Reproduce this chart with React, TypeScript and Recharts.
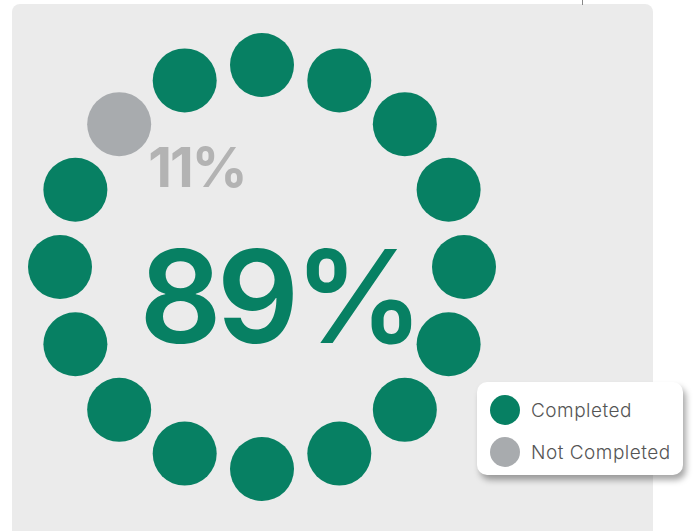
import { PieChart, Pie, Legend } from 'recharts';

// one entry per dot, clockwise from the top
const dotStatus = [
  'Completed', 'Completed', 'Completed', 'Completed',
  'Completed', 'Completed', 'Completed', 'Completed',
  'Completed', 'Completed', 'Completed', 'Completed',
  'Completed', 'Completed', 'Not Completed', 'Completed',
];

const completedLabel = '89%';
const notCompletedLabel = '11%';

const legendItems = ['Completed', 'Not Completed'];

const COLORS: Record<string, string> = {
  'Completed': '#078063',
  'Not Completed': '#a8abae',
};

const RADIAN = Math.PI / 180;
const DOT_RADIUS = 32;
const SLICE = 360 / dotStatus.length;

const pieData = dotStatus.map((status, i) => ({ name: `dot${i}`, status, value: 1 }));

const renderDot = (props: any) => {
  const { cx, cy, midAngle, innerRadius, outerRadius, index } = props;
  const r = (innerRadius + outerRadius) / 2;
  const x = cx + r * Math.cos(-midAngle * RADIAN);
  const y = cy + r * Math.sin(-midAngle * RADIAN);
  return <circle key={`dot-${index}`} cx={x} cy={y} r={DOT_RADIUS} fill={COLORS[dotStatus[index]]} />;
};

const LegendBox = () => (
  <div
    style={{
      width: 206,
      height: 93,
      background: '#fff',
      borderRadius: 10,
      boxShadow: '3px 5px 6px rgba(0,0,0,0.35)',
      boxSizing: 'border-box',
      padding: '7px 0 0 13px',
      fontFamily: 'Inter, "Noto Sans", sans-serif',
    }}
  >
    {legendItems.map((name) => (
      <div key={name} style={{ display: 'flex', alignItems: 'center', height: 42 }}>
        <span
          style={{
            width: 30,
            height: 30,
            borderRadius: '50%',
            background: COLORS[name],
            display: 'inline-block',
          }}
        />
        <span style={{ marginLeft: 11, fontSize: 19, fontWeight: 300, color: '#555', letterSpacing: 0.5 }}>{name}</span>
      </div>
    ))}
  </div>
);

export default function App() {
  return (
    <div style={{ position: 'fixed', left: 0, top: 0, width: 694, height: 531, background: '#fff', overflow: 'hidden' }}>
      <div style={{ position: 'absolute', left: 12, top: 4, width: 641, height: 545, background: '#ebebeb', borderRadius: 8 }} />
      <div style={{ position: 'absolute', left: 582, top: 0, width: 1, height: 5, background: '#888' }} />
      <div style={{ position: 'absolute', left: 0, top: 0 }}>
        <PieChart width={694} height={531} margin={{ top: 0, right: 0, bottom: 0, left: 0 }}>
          <Pie
            data={pieData}
            dataKey="value"
            cx={262}
            cy={267}
            innerRadius={190}
            outerRadius={214}
            startAngle={90 + SLICE / 2}
            endAngle={90 + SLICE / 2 - 360}
            paddingAngle={0}
            fill="transparent"
            stroke="none"
            label={renderDot}
            labelLine={false}
            isAnimationActive={false}
          />
          <Legend
            content={<LegendBox />}
            wrapperStyle={{ position: 'absolute', left: 477, top: 382, width: 206, height: 93 }}
          />
        </PieChart>
      </div>
      <svg width={694} height={531} style={{ position: 'absolute', left: 0, top: 0, pointerEvents: 'none' }}>
        <text
          x={197}
          y={187}
          textAnchor="middle"
          fontFamily='Inter, "Noto Sans", sans-serif'
          fontWeight={700}
          fontSize={55}
          fill="#b3b3b3"
          letterSpacing={-2}
        >
          {notCompletedLabel}
        </text>
        <text
          x={279}
          y={343}
          textAnchor="middle"
          fontFamily='Inter, "Noto Sans", sans-serif'
          fontWeight={600}
          fontSize={129}
          fill={COLORS['Completed']}
          letterSpacing={-5}
        >
          {completedLabel}
        </text>
      </svg>
    </div>
  );
}
